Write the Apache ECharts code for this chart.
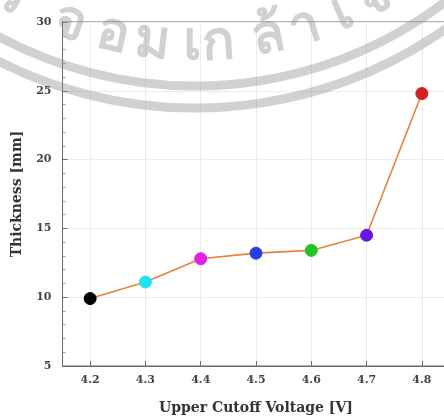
<!DOCTYPE html>
<html>
<head>
<meta charset="utf-8">
<script src="https://cdn.jsdelivr.net/npm/echarts@6/dist/echarts.min.js"></script>
<style>
  html, body { margin: 0; padding: 0; background: #fff; overflow: hidden; }
  #chart-container { width: 444px; height: 416px; }
</style>
</head>
<body>
<div id="chart-container"></div>
<script>
// data
const voltages = ['4.2', '4.3', '4.4', '4.5', '4.6', '4.7', '4.8'];
const thickness = [9.9, 11.1, 12.8, 13.2, 13.4, 14.5, 24.8];
const pointColors = ['#000000', '#22e2ef', '#e41ee4', '#2b3de6', '#20c620', '#6c14e4', '#d21f1f'];
const yTicks = [5, 10, 15, 20, 25, 30];

// watermark (logo ring + text round it)
const markChars = ['ร', 'จ', 'อ', 'ม', 'เ', 'ก', 'ล้', 'า', 'เ', 'จ้', 'า'];
const markAngles = [-29.5, -19.6, -12.7, -6.5, -0.5, 3.6, 11.3, 17.2, 23.3, 28.9, 35.2];

const serif = '"DejaVu Serif", "Liberation Serif", serif';
const axisGray = '#6a6a6a';

const chartDom = document.getElementById('chart-container');
const myChart = echarts.init(chartDom, null, { renderer: 'canvas' });

const ringCx = 195, ringCy = -328;
const markFill = 'rgba(140,140,140,0.40)';

let graphics = [
    { type: 'arc', silent: true, z: 1,
      shape: { cx: ringCx, cy: ringCy, r: 414, startAngle: Math.PI * 0.2, endAngle: Math.PI * 0.8 },
      style: { stroke: markFill, lineWidth: 9, fill: null } },
    { type: 'arc', silent: true, z: 1,
      shape: { cx: ringCx, cy: ringCy, r: 436, startAngle: Math.PI * 0.2, endAngle: Math.PI * 0.8 },
      style: { stroke: markFill, lineWidth: 9, fill: null } }
];
markChars.forEach(function (ch, i) {
    const phi = markAngles[i] * Math.PI / 180;
    graphics.push({
        type: 'text', silent: true, z: 1,
        x: ringCx + 372 * Math.sin(phi),
        y: ringCy + 372 * Math.cos(phi),
        rotation: phi,
        style: {
            text: ch, x: 0, y: 0,
            font: 'bold 54px "Noto Sans", "DejaVu Sans", sans-serif',
            fill: markFill, align: 'center', verticalAlign: 'middle'
        }
    });
});

const option = {
    animation: false,
    backgroundColor: '#ffffff',
    grid: {
        left: 62.5, top: 22, width: 387, height: 344,
        outerBoundsMode: 'none',
        containLabel: false,
        show: true, borderColor: axisGray, borderWidth: 1
    },
    xAxis: {
        type: 'category',
        data: voltages,
        boundaryGap: true,
        name: 'Upper Cutoff Voltage [V]',
        nameLocation: 'middle',
        nameGap: 35,
        nameTextStyle: { fontFamily: serif, fontWeight: 'bold', fontSize: 14, color: '#333' },
        axisLine: { lineStyle: { color: axisGray } },
        axisTick: { show: true, inside: true, alignWithLabel: true, length: 5, lineStyle: { color: axisGray } },
        axisLabel: { fontFamily: serif, fontWeight: 'bold', fontSize: 11, color: '#444', margin: 9 },
        splitLine: { show: true, alignWithLabel: true, lineStyle: { color: '#ececec' } }
    },
    yAxis: {
        type: 'value',
        min: yTicks[0],
        max: yTicks[yTicks.length - 1],
        interval: 5,
        name: 'Thickness [mm]',
        nameLocation: 'middle',
        nameGap: 38,
        nameTextStyle: { fontFamily: serif, fontWeight: 'bold', fontSize: 14, color: '#333' },
        axisLine: { show: true, lineStyle: { color: axisGray } },
        axisTick: { show: true, inside: true, length: 5, lineStyle: { color: axisGray } },
        minorTick: { show: true, splitNumber: 5, length: 3, lineStyle: { color: '#999' } },
        axisLabel: { fontFamily: serif, fontWeight: 'bold', fontSize: 11, color: '#444', margin: 11 },
        splitLine: { show: true, lineStyle: { color: '#ececec' } }
    },
    graphic: graphics,
    series: [
        {
            type: 'line',
            z: 3,
            data: thickness.map(function (v, i) {
                return { value: v, itemStyle: { color: pointColors[i], borderColor: pointColors[i] } };
            }),
            symbol: 'circle',
            symbolSize: 12,
            lineStyle: { color: '#e8823a', width: 1.6 },
            itemStyle: { opacity: 1 }
        }
    ]
};
myChart.setOption(option);
</script>
</body>
</html>
